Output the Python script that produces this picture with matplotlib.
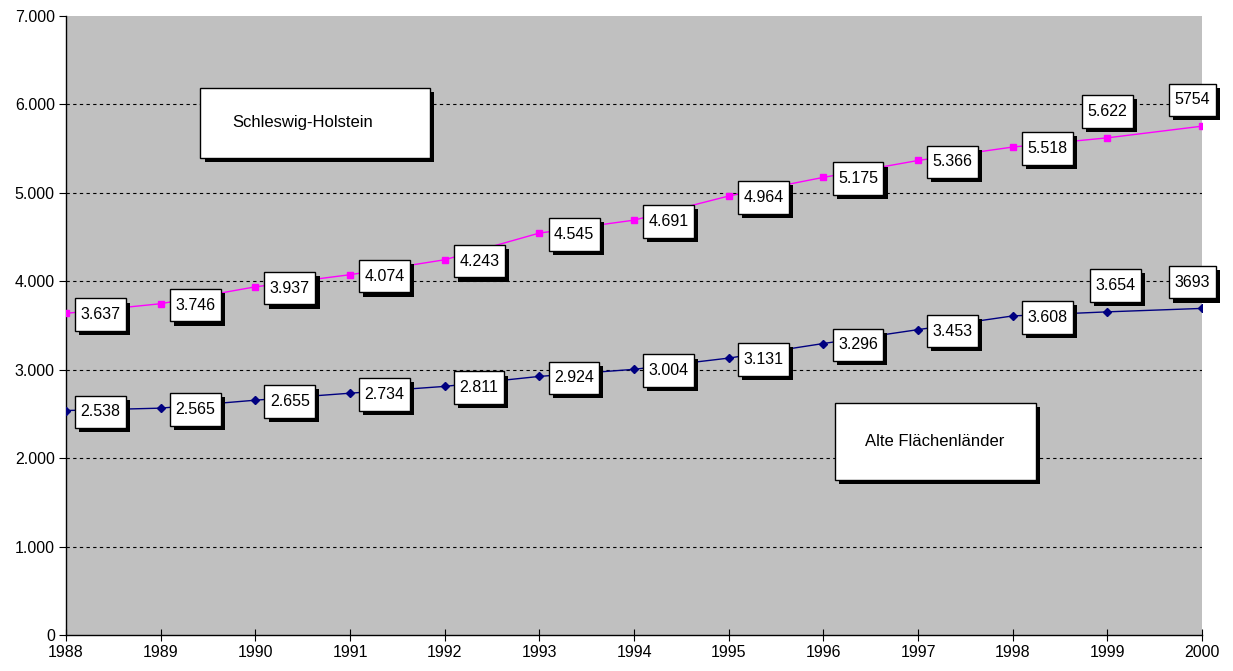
import matplotlib.pyplot as plt
from matplotlib.patches import Rectangle
from matplotlib.path import Path
from matplotlib.ticker import FuncFormatter
import matplotlib.patheffects as pe

plt.rcParams['font.family'] = ['Liberation Sans', 'DejaVu Sans']

years = [1988, 1989, 1990, 1991, 1992, 1993, 1994, 1995, 1996, 1997, 1998, 1999, 2000]
sh_values = [3637, 3746, 3937, 4074, 4243, 4545, 4691, 4964, 5175, 5366, 5518, 5622, 5754]
alt_values = [2538, 2565, 2655, 2734, 2811, 2924, 3004, 3131, 3296, 3453, 3608, 3654, 3693]
sh_labels = ['3.637', '3.746', '3.937', '4.074', '4.243', '4.545', '4.691', '4.964',
             '5.175', '5.366', '5.518', '5.622', '5754']
alt_labels = ['2.538', '2.565', '2.655', '2.734', '2.811', '2.924', '3.004', '3.131',
              '3.296', '3.453', '3.608', '3.654', '3693']

fig = plt.figure(figsize=(12.33, 6.71), dpi=100)
ax = fig.add_axes([0.0535, 0.0537, 0.9215, 0.9225])
ax.set_facecolor('#C0C0C0')

ax.plot(years, sh_values, color='#FF00FF', lw=1, marker='s', ms=5, zorder=3)
ax.plot(years, alt_values, color='#000080', lw=1, marker='D', ms=4, zorder=3)

ax.set_xlim(1988, 2000)
ax.set_ylim(0, 7000)
ax.set_xticks(years)
ax.set_yticks(range(0, 7001, 1000))
ax.yaxis.set_major_formatter(FuncFormatter(lambda v, p: f'{int(v):,}'.replace(',', '.')))
for y in range(1000, 7000, 1000):
    ax.axhline(y, color='black', lw=0.8, ls=(0, (3, 3)), zorder=1)

for s in ['top', 'right']:
    ax.spines[s].set_visible(False)
ax.spines['left'].set_linewidth(1)
ax.spines['bottom'].set_linewidth(1)
ax.tick_params(axis='x', direction='inout', length=8, labelsize=11.5, pad=3, colors='black')
ax.tick_params(axis='y', direction='out', length=5, labelsize=11.5, pad=3, colors='black')

shadow = [pe.SimplePatchShadow(offset=(3, -3), shadow_rgbFace='black', alpha=1), pe.Normal()]


# square box with more room above and below the text than at the sides
def tall_box(x0, y0, width, height, mutation_size):
    px, py = 0.34 * mutation_size, 0.55 * mutation_size
    x0, y0 = x0 - px, y0 - py
    x1, y1 = x0 + width + 2 * px, y0 + height + 2 * py
    return Path([(x0, y0), (x1, y0), (x1, y1), (x0, y1), (x0, y0)], closed=True)


def label(x, y, txt, dx, dy, ha, va):
    t = ax.annotate(txt, (x, y), xytext=(dx, dy), textcoords='offset points',
                    ha=ha, va=va, fontsize=11.5, color='black',
                    bbox=dict(boxstyle=tall_box, fc='white', ec='black', lw=1),
                    zorder=5)
    t.get_bbox_patch().set_path_effects(shadow)


for i, yr in enumerate(years):
    if yr < 1999:
        label(yr, sh_values[i], sh_labels[i], 10.5, -1, 'left', 'center')
        label(yr, alt_values[i], alt_labels[i], 10.5, -1, 'left', 'center')
    else:
        label(yr, sh_values[i], sh_labels[i], -7 if yr == 2000 else 0, 13.5, 'center', 'bottom')
        label(yr, alt_values[i], alt_labels[i], -7 if yr == 2000 else 6, 13.5, 'center', 'bottom')


def textbox(x0, y0, x1, y1, txt, tx, ha):
    r = Rectangle((x0, y0), x1 - x0, y1 - y0, fc='white', ec='black', lw=1, zorder=5)
    r.set_path_effects(shadow)
    ax.add_patch(r)
    ax.text(tx, (y0 + y1) / 2, txt, ha=ha, va='center', fontsize=12, zorder=6)


textbox(1989.42, 5394, 1991.84, 6186, 'Schleswig-Holstein', 1989.76, 'left')
textbox(1996.12, 1753, 1998.24, 2624, 'Alte Flächenländer', 1997.18, 'center')

fig.savefig('out.png', dpi=100)
